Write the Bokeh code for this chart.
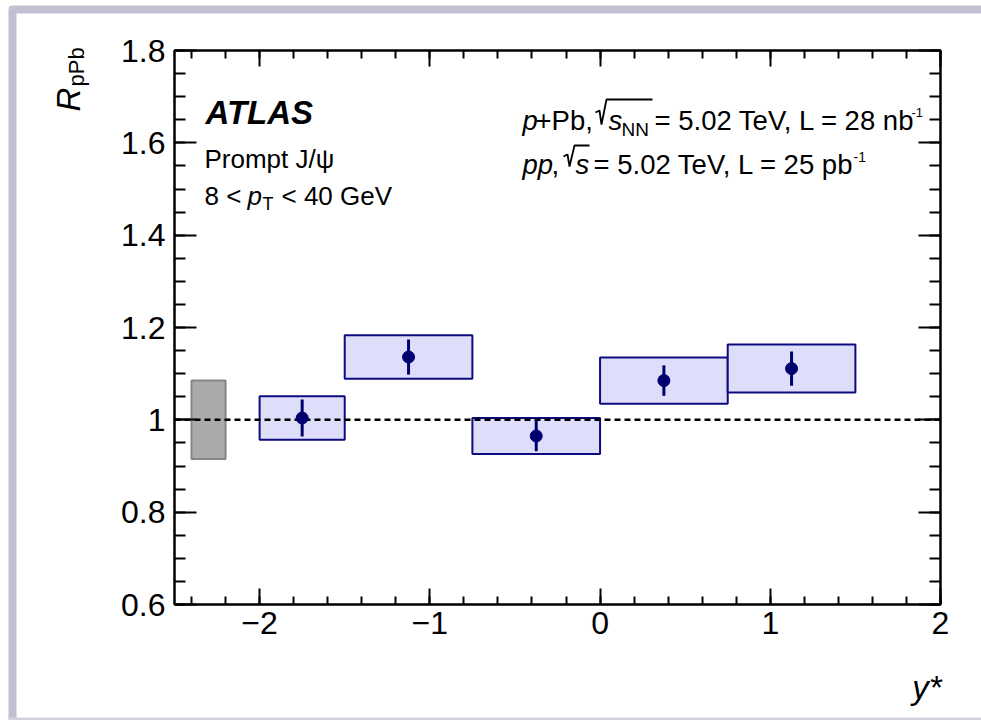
import math
from bokeh.plotting import figure
from bokeh.models import FixedTicker, LinearAxis, Label, ColumnDataSource
from bokeh.core.properties import value
from bokeh.embed import file_html
from bokeh.resources import INLINE

# ---------------- data ----------------
bin_lo = [-2.0, -1.5, -0.75, 0.0, 0.75]
bin_hi = [-1.5, -0.75, 0.0, 0.75, 1.5]
y_star = [-1.75, -1.125, -0.375, 0.375, 1.125]
r_ppb = [1.004, 1.136, 0.965, 1.085, 1.111]
stat_err = [0.040, 0.038, 0.033, 0.033, 0.037]
syst_err = [0.047, 0.047, 0.039, 0.050, 0.052]

global_lo = [-2.4]
global_hi = [-2.2]
global_unc = [0.085]
reference = 1.0

x_major = [-2, -1, 0, 1, 2]
x_labels = {-2: "\u22122", -1: "\u22121", 0: "0", 1: "1", 2: "2"}
y_major = [0.6, 0.8, 1.0, 1.2, 1.4, 1.6, 1.8]
y_labels = {0.6: "0.6", 0.8: "0.8", 1.0: "1", 1.2: "1.2", 1.4: "1.4", 1.6: "1.6", 1.8: "1.8"}
x_minor = [round(-2.4 + 0.2 * i, 2) for i in range(23)]
y_minor = [round(0.6 + 0.05 * i, 2) for i in range(25)]

X_MIN, X_MAX = -2.5, 2.0
Y_MIN, Y_MAX = 0.6, 1.8

# ---------------- layout (pixels) ----------------
W, H = 981, 720
FL, FR, FT, FB = 174, 940, 50, 604


def dx(px):
    return X_MIN + (px - FL) * (X_MAX - X_MIN) / (FR - FL)


def dy(py):
    return Y_MIN + (FB - py) * (Y_MAX - Y_MIN) / (FB - FT)


FONT = "Liberation Sans"
BOX_LINE = "#0c0c80"
BOX_FILL = "#dedefa"
MARK = "#000070"

p = figure(width=W, height=H, x_range=(X_MIN, X_MAX), y_range=(Y_MIN, Y_MAX),
           output_backend="svg", toolbar_location=None,
           min_border_left=FL, min_border_right=W - FR,
           min_border_top=FT, min_border_bottom=H - FB)
p.xgrid.grid_line_color = None
p.ygrid.grid_line_color = None
p.background_fill_color = "white"
p.border_fill_color = "white"
p.outline_line_color = "black"
p.outline_line_width = 2


def style_x(ax, show):
    ax.ticker = FixedTicker(ticks=x_major, minor_ticks=x_minor)
    ax.major_tick_in = 16
    ax.major_tick_out = 0
    ax.minor_tick_in = 8
    ax.minor_tick_out = 0
    ax.major_tick_line_width = 2
    ax.minor_tick_line_width = 2
    ax.axis_line_width = 2
    ax.major_label_overrides = x_labels
    ax.major_label_text_font = FONT
    ax.major_label_text_font_size = "32px" if show else "0px"
    ax.major_label_text_alpha = 1 if show else 0
    ax.major_label_standoff = 7
    ax.major_label_text_color = "black"


def style_y(ax, show):
    ax.ticker = FixedTicker(ticks=y_major, minor_ticks=y_minor)
    ax.major_tick_in = 22
    ax.major_tick_out = 0
    ax.minor_tick_in = 11
    ax.minor_tick_out = 0
    ax.major_tick_line_width = 2
    ax.minor_tick_line_width = 2
    ax.axis_line_width = 2
    ax.major_label_overrides = y_labels
    ax.major_label_text_font = FONT
    ax.major_label_text_font_size = "32px" if show else "0px"
    ax.major_label_text_alpha = 1 if show else 0
    ax.major_label_standoff = 9
    ax.major_label_text_color = "black"


style_x(p.xaxis[0], True)
style_y(p.yaxis[0], True)
top_ax = LinearAxis()
right_ax = LinearAxis()
style_x(top_ax, False)
style_y(right_ax, False)
p.add_layout(top_ax, "above")
p.add_layout(right_ax, "right")

# ---------------- window frame (outside the plot area) ----------------
FRAME = "#c0c0d0"
p.quad(left=[dx(12), dx(8), dx(8)], right=[dx(990), dx(16), dx(990)],
       top=[dy(5), dy(9), dy(717)], bottom=[dy(13), dy(730), dy(730)],
       fill_color=[FRAME, FRAME, "#d2d2de"], line_color=None, level="overlay")
p.wedge(x=[dx(12)], y=[dy(9)], radius=4 * (X_MAX - X_MIN) / (FR - FL),
        start_angle=math.pi / 2, end_angle=math.pi, fill_color=FRAME,
        line_color=None, level="overlay")

# ---------------- data marks ----------------
src = ColumnDataSource(dict(
    lo=bin_lo, hi=bin_hi, x=y_star, y=r_ppb,
    s_top=[v + e for v, e in zip(r_ppb, syst_err)],
    s_bot=[v - e for v, e in zip(r_ppb, syst_err)],
    e_top=[v + e for v, e in zip(r_ppb, stat_err)],
    e_bot=[v - e for v, e in zip(r_ppb, stat_err)],
))
gsrc = ColumnDataSource(dict(
    lo=global_lo, hi=global_hi,
    top=[reference + u for u in global_unc],
    bot=[reference - u for u in global_unc],
))

p.quad(left="lo", right="hi", top="top", bottom="bot", source=gsrc,
       fill_color="#aaaaaa", line_color="#858585", line_width=2)
p.quad(left="lo", right="hi", top="s_top", bottom="s_bot", source=src,
       fill_color=BOX_FILL, line_color=BOX_LINE, line_width=2)
p.line(x=[X_MIN, X_MAX], y=[reference, reference], line_color="black",
       line_width=2.5, line_dash="6 4")
p.segment(x0="x", x1="x", y0="e_bot", y1="e_top", source=src,
          line_color=MARK, line_width=3)
p.scatter(x="x", y="y", source=src, size=12, marker="circle",
          fill_color=MARK, line_color=MARK)


# ---------------- texts ----------------
def lab(text, px, py, size, style="normal", align="left"):
    p.add_layout(Label(x=dx(px), y=dy(py), text=text, text_font=FONT,
                       text_font_size=f"{size}px", text_font_style=style,
                       text_align=align, text_baseline="alphabetic",
                       text_color="black"))


def radical(pts):
    p.line(x=[dx(a) for a, b in pts], y=[dy(b) for a, b in pts],
           line_color="black", line_width=1.8)


lab("ATLAS", 205, 112, 33, "bold italic")
lab("Prompt J/\u03c8", 204, 158, 26)
lab("8 <", 204, 195, 26)
lab("p", 247, 195, 26, "italic")
lab("T", 262, 203, 18)
lab("< 40 GeV", 281, 195, 26)

TS = 27.5
# line 1
lab("p", 522, 120, TS, "italic")
lab("+Pb,", 535, 120, TS)
radical([(595, 112), (599, 110), (601, 124), (606, 99), (652, 99)])
lab("s", 608, 120, TS, "italic")
lab("NN", 621, 129, 19)
lab("= 5.02 TeV, L = 27 nb".replace("27", "28"), 654, 120, TS)
lab("-1", 911, 112, 13)

# line 2
lab("pp", 522, 164, TS, "italic")
lab(",", 551, 164, TS)
radical([(563, 156), (567, 154), (569, 166), (574, 145), (589, 145)])
lab("s", 575, 164, TS, "italic")
lab("= 5.02 TeV, L = 25 pb", 593, 164, TS)
lab("-1", 853, 156, 14)

# axis titles (outside the frame, drawn at overlay level)
p.text(x=[dx(68)], y=[dy(111)], text=["R"], angle=math.pi / 2,
       text_font=value(FONT), text_font_size=value("33px"), text_font_style="italic",
       text_align="left", text_baseline="alphabetic", text_color="black", level="overlay")
p.text(x=[dx(76)], y=[dy(86)], text=["pPb"], angle=math.pi / 2,
       text_font=value(FONT), text_font_size=value("22px"),
       text_align="left", text_baseline="alphabetic", text_color="black", level="overlay")
p.text(x=[dx(941)], y=[dy(687)], text=["y*"],
       text_font=value(FONT), text_font_size=value("33px"), text_font_style="italic",
       text_align="right", text_baseline="alphabetic", text_color="black", level="overlay")

open("out.html", "w").write(file_html(p, INLINE))
